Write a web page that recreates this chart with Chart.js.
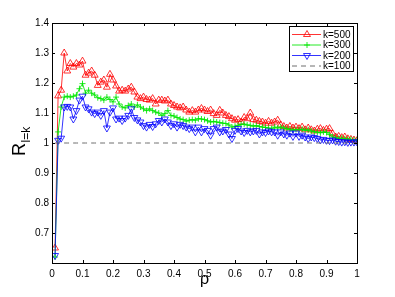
<!DOCTYPE html>
<html>
<head>
<meta charset="utf-8">
<script src="https://cdn.jsdelivr.net/npm/chart.js@4/dist/chart.umd.min.js"></script>
<style>
  body { margin: 0; background: #fff; }
</style>
</head>
<body>
<canvas id="rhoChart" width="395" height="297"></canvas>
<script>
// rho = 0.01 ... 1.00
const rho = [];
for (let i = 1; i <= 100; i++) rho.push(i / 100);

const k500 = [
  0.65, 1.157, 1.176, 1.30, 1.24, 1.265, 1.253, 1.265, 1.26, 1.273,
  1.226, 1.233, 1.24, 1.226, 1.192, 1.203, 1.21, 1.186, 1.229, 1.21,
  1.19, 1.173, 1.176, 1.173, 1.18, 1.186, 1.17, 1.153, 1.148, 1.153,
  1.145, 1.143, 1.148, 1.13, 1.143, 1.143, 1.14, 1.143, 1.13, 1.125,
  1.12, 1.117, 1.12, 1.11, 1.103, 1.108, 1.103, 1.11, 1.115, 1.11,
  1.105, 1.11, 1.098, 1.092, 1.109, 1.10, 1.092, 1.088, 1.081, 1.076,
  1.078, 1.07, 1.085, 1.081, 1.10, 1.078, 1.076, 1.072, 1.07, 1.066,
  1.072, 1.066, 1.07, 1.076, 1.06, 1.055, 1.05, 1.055, 1.05, 1.053,
  1.048, 1.053, 1.044, 1.05, 1.044, 1.04, 1.046, 1.048, 1.042, 1.046,
  1.048, 1.031, 1.02, 1.022, 1.018, 1.02, 1.014, 1.012, 1.01, 1.008
];

const k300 = [
  0.62, 1.037, 1.12, 1.153, 1.156, 1.153, 1.156, 1.16, 1.181, 1.198,
  1.166, 1.176, 1.166, 1.16, 1.151, 1.148, 1.143, 1.153, 1.145, 1.137,
  1.153, 1.13, 1.12, 1.117, 1.125, 1.13, 1.12, 1.127, 1.12, 1.114,
  1.108, 1.114, 1.108, 1.103, 1.10, 1.092, 1.098, 1.108, 1.092, 1.09,
  1.085, 1.08, 1.078, 1.073, 1.076, 1.078, 1.076, 1.081, 1.08, 1.078,
  1.074, 1.07, 1.072, 1.07, 1.068, 1.066, 1.065, 1.06, 1.053, 1.056,
  1.059, 1.062, 1.063, 1.06, 1.059, 1.056, 1.058, 1.055, 1.053, 1.052,
  1.05, 1.048, 1.053, 1.05, 1.053, 1.05, 1.047, 1.046, 1.042, 1.045,
  1.044, 1.046, 1.042, 1.044, 1.04, 1.037, 1.036, 1.034, 1.037, 1.035,
  1.028, 1.02, 1.018, 1.015, 1.016, 1.014, 1.013, 1.012, 1.01, 1.009
];

const k200 = [
  0.625, 1.009, 1.016, 1.12, 1.122, 1.12, 1.08, 1.108, 1.143, 1.156,
  1.12, 1.114, 1.103, 1.098, 1.103, 1.092, 1.108, 1.05, 1.103, 1.117,
  1.08, 1.083, 1.075, 1.083, 1.092, 1.114, 1.085, 1.077, 1.07, 1.058,
  1.053, 1.062, 1.055, 1.064, 1.075, 1.07, 1.08, 1.07, 1.058, 1.064,
  1.053, 1.062, 1.058, 1.053, 1.048, 1.053, 1.037, 1.053, 1.037, 1.048,
  1.042, 1.026, 1.048, 1.053, 1.037, 1.04, 1.045, 1.03, 1.015, 1.042,
  1.048, 1.04, 1.035, 1.042, 1.037, 1.04, 1.042, 1.03, 1.037, 1.035,
  1.04, 1.037, 1.037, 1.026, 1.037, 1.03, 1.026, 1.033, 1.022, 1.033,
  1.022, 1.026, 1.02, 1.015, 1.02, 1.018, 1.015, 1.01, 1.012, 1.009,
  1.008, 1.01, 1.006, 1.005, 1.003, 1.004, 1.002, 1.003, 1.003, 1.004
];

const k100 = rho.map(() => 1);

const xTicks = [0, 0.1, 0.2, 0.3, 0.4, 0.5, 0.6, 0.7, 0.8, 0.9, 1];
const yTicks = [0.7, 0.8, 0.9, 1, 1.1, 1.2, 1.3, 1.4];

const seriesNames = ['k=500', 'k=300', 'k=200', 'k=100'];

const toPoints = arr => arr.map((v, i) => ({ x: rho[i], y: v }));
const fmt = v => (v === 0 || v === 1) ? String(v) : v.toFixed(1);

// matlab style box, inward ticks, legend and axis titles
const matlabFrame = {
  id: 'matlabFrame',
  afterDraw(chart) {
    const ctx = chart.ctx;
    const a = chart.chartArea;
    const xs = chart.scales.x, ys = chart.scales.y;
    ctx.save();
    ctx.strokeStyle = '#000';
    ctx.lineWidth = 1;
    ctx.strokeRect(Math.round(a.left) + 0.5, Math.round(a.top) + 0.5,
      Math.round(a.right - a.left), Math.round(a.bottom - a.top));
    ctx.beginPath();
    xTicks.forEach(t => {
      const px = Math.round(xs.getPixelForValue(t)) + 0.5;
      ctx.moveTo(px, a.bottom); ctx.lineTo(px, a.bottom - 3);
      ctx.moveTo(px, a.top); ctx.lineTo(px, a.top + 3);
    });
    yTicks.forEach(t => {
      const py = Math.round(ys.getPixelForValue(t)) + 0.5;
      ctx.moveTo(a.left, py); ctx.lineTo(a.left + 3, py);
      ctx.moveTo(a.right, py); ctx.lineTo(a.right - 3, py);
    });
    ctx.stroke();

    // legend
    const lx = 289.5, ly = 26.5, lw = 64, lh = 45;
    ctx.fillStyle = '#fff';
    ctx.fillRect(lx, ly, lw, lh);
    ctx.strokeRect(lx, ly, lw, lh);
    const rows = [34.5, 45, 55.5, 66];
    ctx.font = '10px "Liberation Sans", Arial, sans-serif';
    ctx.textBaseline = 'middle';
    chart.data.datasets.forEach((ds, i) => {
      const y = rows[i];
      ctx.strokeStyle = ds.borderColor;
      ctx.lineWidth = 1;
      ctx.setLineDash(ds.borderDash || []);
      ctx.beginPath();
      ctx.moveTo(292, y); ctx.lineTo(321, y);
      ctx.stroke();
      ctx.setLineDash([]);
      const mx = 307, r = 4;
      ctx.beginPath();
      if (ds.pointStyle === 'triangle') {
        const d = ds.pointRotation ? 1 : -1;
        ctx.moveTo(mx, y + d * r);
        ctx.lineTo(mx - r * 0.87, y - d * r * 0.5);
        ctx.lineTo(mx + r * 0.87, y - d * r * 0.5);
        ctx.closePath();
        ctx.stroke();
      } else if (ds.pointStyle === 'cross') {
        ctx.moveTo(mx - 3, y); ctx.lineTo(mx + 3, y);
        ctx.moveTo(mx, y - 3); ctx.lineTo(mx, y + 3);
        ctx.stroke();
      }
      ctx.fillStyle = '#000';
      ctx.textAlign = 'left';
      ctx.fillText(ds.label, 323, y + 0.5);
    });

    // axis titles
    ctx.fillStyle = '#000';
    ctx.font = '16px "Liberation Sans", Arial, sans-serif';
    ctx.textAlign = 'center';
    ctx.textBaseline = 'alphabetic';
    ctx.fillText('ρ', (a.left + a.right) / 2, 284);

    ctx.font = '18px "Liberation Sans", Arial, sans-serif';
    ctx.translate(25, 156);
    ctx.rotate(-Math.PI / 2);
    ctx.textAlign = 'left';
    ctx.fillText('R', 0, 0);
    const rw = ctx.measureText('R').width;
    ctx.font = '12px "Liberation Sans", Arial, sans-serif';
    ctx.fillText('l=k', rw + 0.5, 5);
    ctx.restore();
  }
};

const rho_config = {
  type: 'line',
  data: {
    datasets: [
      {
        label: seriesNames[0],
        data: toPoints(k500),
        borderColor: 'rgba(255, 0, 0, 0.8)',
        borderWidth: 1,
        pointStyle: 'triangle',
        pointRadius: 4,
        pointBorderWidth: 1,
        pointBorderColor: 'rgba(255, 0, 0, 0.8)',
        pointBackgroundColor: 'rgba(255, 255, 255, 0)',
        order: 4
      },
      {
        label: seriesNames[1],
        data: toPoints(k300),
        borderColor: 'rgba(0, 230, 0, 0.85)',
        borderWidth: 1,
        pointStyle: 'cross',
        pointRadius: 3,
        pointBorderWidth: 1,
        pointBorderColor: 'rgba(0, 230, 0, 0.85)',
        order: 3
      },
      {
        label: seriesNames[2],
        data: toPoints(k200),
        borderColor: 'rgba(0, 0, 255, 0.8)',
        borderWidth: 1,
        pointStyle: 'triangle',
        pointRotation: 180,
        pointRadius: 4,
        pointBorderWidth: 1,
        pointBorderColor: 'rgba(0, 0, 255, 0.8)',
        pointBackgroundColor: 'rgba(255, 255, 255, 0)',
        order: 2
      },
      {
        label: seriesNames[3],
        data: toPoints(k100),
        borderColor: 'rgb(110, 110, 110)',
        borderWidth: 1,
        borderDash: [5, 4],
        pointRadius: 0,
        order: 1
      }
    ]
  },
  options: {
    responsive: false,
    animation: false,
    devicePixelRatio: 1,
    layout: { padding: { top: 23, right: 38, left: 0, bottom: 0 } },
    plugins: {
      legend: { display: false },
      tooltip: { enabled: false }
    },
    elements: { line: { tension: 0 } },
    scales: {
      x: {
        type: 'linear',
        min: 0,
        max: 1,
        grid: { display: false, drawTicks: false },
        border: { display: false },
        afterBuildTicks: s => { s.ticks = xTicks.map(v => ({ value: v })); },
        afterFit: s => { s.height = 34; },
        ticks: {
          padding: 5,
          maxRotation: 0,
          color: '#000',
          font: { family: '"Liberation Sans", Arial, sans-serif', size: 10 },
          callback: v => fmt(v)
        }
      },
      y: {
        type: 'linear',
        min: 0.6,
        max: 1.4,
        grid: { display: false, drawTicks: false },
        border: { display: false },
        afterBuildTicks: s => { s.ticks = yTicks.map(v => ({ value: v })); },
        afterFit: s => { s.width = 52; },
        ticks: {
          padding: 3,
          color: '#000',
          font: { family: '"Liberation Sans", Arial, sans-serif', size: 10 },
          callback: v => fmt(v)
        }
      }
    }
  },
  plugins: [matlabFrame]
};

var rho_chart = new Chart(document.getElementById('rhoChart'), rho_config);
</script>
</body>
</html>
